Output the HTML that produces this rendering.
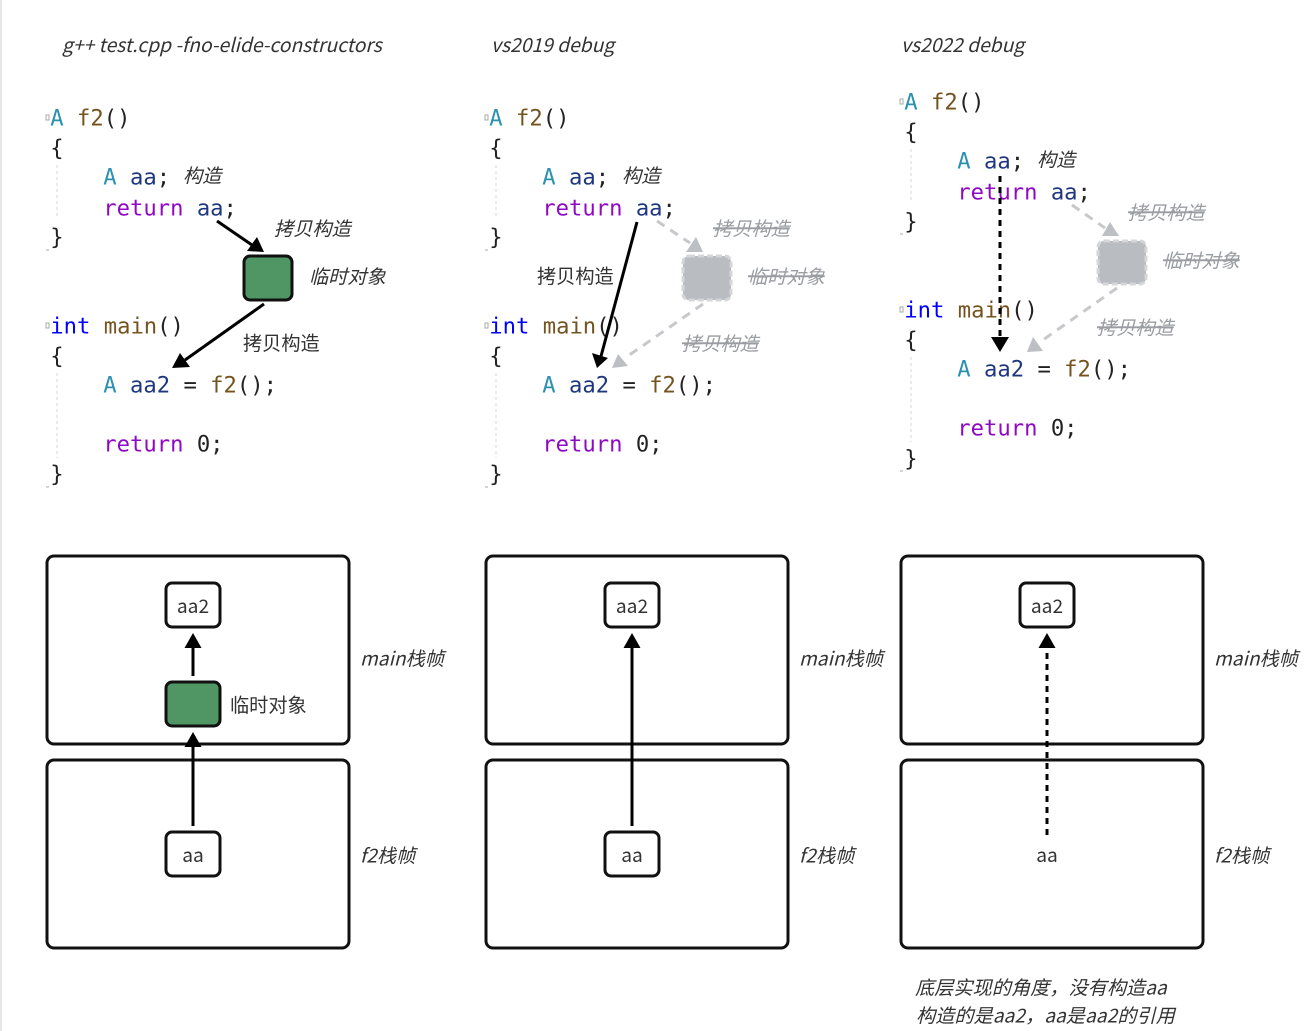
<!DOCTYPE html>
<html><head><meta charset="utf-8"><style>
html,body{margin:0;padding:0;background:#fff;width:1309px;height:1031px;overflow:hidden}
svg{display:block}
.c{font-family:"DejaVu Sans Mono","Liberation Mono",monospace;font-size:22.2px;fill:#222;stroke:currentColor;stroke-width:0;transform:translate(-.7px,.3px)}
.t{fill:#2b91af}.f{fill:#74531f}.v{fill:#1f377f}.k{fill:#8f08c4}.b{fill:#0000ff}
.n{font-family:"Noto Sans CJK SC","Liberation Sans",sans-serif;font-size:19.2px;fill:#333}
.cj{font-family:"Noto Sans CJK SC",sans-serif;font-size:19.2px;fill:#333}
.i{font-style:italic;transform:translate(-1px,.6px)}
.g{font-family:"Noto Sans CJK SC",sans-serif;font-size:19.2px;font-style:italic;fill:#9a9da2;text-decoration:line-through;transform:translateY(.6px)}
.title{font-family:"Noto Sans CJK SC",sans-serif;font-size:19.25px;font-style:italic;fill:#333}
.box{fill:#fff;stroke:#111;stroke-width:3}
.gb{fill:#4f9664;stroke:#111;stroke-width:3}
.gr{fill:#b9bcc0;stroke:#d5d6da;stroke-width:3;stroke-dasharray:6 3}
.ln{stroke:#000;stroke-width:3;fill:none}
.dl{stroke:#000;stroke-width:3;fill:none;stroke-dasharray:6 5}
.gl{stroke:#c6c8cb;stroke-width:3;fill:none;stroke-dasharray:9 7}
.gh{fill:#bcbfc3}
.ig{stroke:#d5d5d5;stroke-width:1;stroke-dasharray:3 3}
.fm{fill:none;stroke:#aaa;stroke-width:1}
</style></head><body>
<svg width="1309" height="1031" viewBox="0 0 1309 1031" xmlns="http://www.w3.org/2000/svg">
<rect x="0" y="0" width="1309" height="1031" fill="#fff"/>
<rect x="0" y="0" width="2" height="1031" fill="#e6e6ea"/>

<text class="title" x="62" y="52">g++ test.cpp -fno-elide-constructors</text>
<text class="title" x="491" y="52">vs2019 debug</text>
<text class="title" x="901" y="52">vs2022 debug</text>

<!-- column 1 code -->
<rect class="fm" x="46" y="115" width="3" height="5"/><rect class="fm" x="46" y="323" width="3" height="5"/>
<path class="ig" d="M57 165V218M57 373V458"/>
<path d="M46 250h3M46 487h3" stroke="#aaa"/>
<text class="c" x="51" y="125"><tspan class="t">A</tspan> <tspan class="f">f2</tspan>()</text>
<text class="c" x="51" y="155">{</text>
<text class="c" x="104" y="184"><tspan class="t">A</tspan> <tspan class="v">aa</tspan>;</text>
<text class="c" x="104" y="215"><tspan class="k">return</tspan> <tspan class="v">aa</tspan>;</text>
<text class="c" x="51" y="244">}</text>
<text class="c" x="51" y="333"><tspan class="b">int</tspan> <tspan class="f">main</tspan>()</text>
<text class="c" x="51" y="363">{</text>
<text class="c" x="104" y="392"><tspan class="t">A</tspan> <tspan class="v">aa2</tspan> = <tspan class="f">f2</tspan>();</text>
<text class="c" x="104" y="451"><tspan class="k">return</tspan> 0;</text>
<text class="c" x="51" y="481">}</text>

<text class="cj i" x="184" y="182">构造</text>
<text class="cj i" x="275" y="235">拷贝构造</text>
<text class="cj i" x="310" y="283">临时对象</text>
<text class="cj" x="243" y="350">拷贝构造</text>
<rect class="gb" x="244" y="256" width="48" height="44" rx="6"/>
<path class="ln" d="M217 221L252 245"/>
<polygon points="264,252 247,251 257,237" fill="#000"/>
<path class="ln" d="M264 304L185 360"/>
<polygon points="172,368 190,367 180,353" fill="#000"/>

<!-- column 2 code -->
<rect class="fm" x="485" y="115" width="3" height="5"/><rect class="fm" x="485" y="323" width="3" height="5"/>
<path class="ig" d="M496 165V218M496 373V458"/>
<path d="M485 250h3M485 487h3" stroke="#aaa"/>
<text class="c" x="490" y="125"><tspan class="t">A</tspan> <tspan class="f">f2</tspan>()</text>
<text class="c" x="490" y="155">{</text>
<text class="c" x="543" y="184"><tspan class="t">A</tspan> <tspan class="v">aa</tspan>;</text>
<text class="c" x="543" y="215"><tspan class="k">return</tspan> <tspan class="v">aa</tspan>;</text>
<text class="c" x="490" y="244">}</text>
<text class="c" x="490" y="333"><tspan class="b">int</tspan> <tspan class="f">main</tspan>()</text>
<text class="c" x="490" y="363">{</text>
<text class="c" x="543" y="392"><tspan class="t">A</tspan> <tspan class="v">aa2</tspan> = <tspan class="f">f2</tspan>();</text>
<text class="c" x="543" y="451"><tspan class="k">return</tspan> 0;</text>
<text class="c" x="490" y="481">}</text>

<text class="cj i" x="623" y="182">构造</text>
<text class="cj" x="537" y="283">拷贝构造</text>
<text class="g" x="713" y="235">拷贝构造</text>
<text class="g" x="748" y="283">临时对象</text>
<text class="g" x="682" y="350">拷贝构造</text>
<rect class="gr" x="683" y="256" width="48" height="44" rx="6"/>
<path class="gl" d="M657 221L690 243"/>
<polygon class="gh" points="696,237 686,252 703,252"/>
<path class="gl" d="M703 304L625 358"/>
<polygon class="gh" points="612,368 628,366 618,354"/>
<path class="ln" d="M637 222L600 360"/>
<polygon points="597,368 592,353 608,358" fill="#000"/>

<!-- column 3 code -->
<rect class="fm" x="900" y="99" width="3" height="5"/><rect class="fm" x="900" y="307" width="3" height="5"/>
<path class="ig" d="M911 149V202M911 357V442"/>
<path d="M900 234h3M900 471h3" stroke="#aaa"/>
<text class="c" x="905" y="109"><tspan class="t">A</tspan> <tspan class="f">f2</tspan>()</text>
<text class="c" x="905" y="139">{</text>
<text class="c" x="958" y="168"><tspan class="t">A</tspan> <tspan class="v">aa</tspan>;</text>
<text class="c" x="958" y="199"><tspan class="k">return</tspan> <tspan class="v">aa</tspan>;</text>
<text class="c" x="905" y="228.500">}</text>
<text class="c" x="905" y="317"><tspan class="b">int</tspan> <tspan class="f">main</tspan>()</text>
<text class="c" x="905" y="347">{</text>
<text class="c" x="958" y="376"><tspan class="t">A</tspan> <tspan class="v">aa2</tspan> = <tspan class="f">f2</tspan>();</text>
<text class="c" x="958" y="435"><tspan class="k">return</tspan> 0;</text>
<text class="c" x="905" y="465.500">}</text>

<text class="cj i" x="1038" y="166">构造</text>
<text class="g" x="1128" y="219">拷贝构造</text>
<text class="g" x="1163" y="267">临时对象</text>
<text class="g" x="1097" y="334">拷贝构造</text>
<rect class="gr" x="1098" y="241" width="48" height="43" rx="6"/>
<path class="gl" d="M1072 205L1105 228"/>
<polygon class="gh" points="1110,222 1102,236 1119,236"/>
<path class="gl" d="M1117 288L1040 342"/>
<polygon class="gh" points="1027,352 1043,351 1033,337"/>
<path class="dl" d="M1000 176V338"/>
<polygon points="991,337 1009,337 1000,352" fill="#000"/>

<!-- stack frames col 1 -->
<rect class="box" x="47" y="556" width="302" height="188" rx="7"/>
<rect class="box" x="47" y="760" width="302" height="188" rx="7"/>
<rect class="box" x="166" y="583" width="54" height="44" rx="6"/>
<text class="n" x="193" y="613" text-anchor="middle">aa2</text>
<rect class="gb" x="166" y="682" width="54" height="44" rx="6"/>
<text class="cj" x="230" y="712">临时对象</text>
<rect class="box" x="166" y="832" width="54" height="44" rx="6"/>
<text class="n" x="193" y="862" text-anchor="middle">aa</text>
<path class="ln" d="M193 676V646M193 826V745"/>
<polygon points="193,633 184.500,648 201.500,648" fill="#000"/>
<polygon points="193,732 184.500,747 201.500,747" fill="#000"/>
<text class="cj i" x="361" y="665">main栈帧</text>
<text class="cj i" x="361" y="862">f2栈帧</text>

<!-- stack frames col 2 -->
<rect class="box" x="486" y="556" width="302" height="188" rx="7"/>
<rect class="box" x="486" y="760" width="302" height="188" rx="7"/>
<rect class="box" x="605" y="583" width="54" height="44" rx="6"/>
<text class="n" x="632" y="613" text-anchor="middle">aa2</text>
<rect class="box" x="605" y="832" width="54" height="44" rx="6"/>
<text class="n" x="632" y="862" text-anchor="middle">aa</text>
<path class="ln" d="M632 826V646"/>
<polygon points="632,633 623.500,648 640.500,648" fill="#000"/>
<text class="cj i" x="800" y="665">main栈帧</text>
<text class="cj i" x="800" y="862">f2栈帧</text>

<!-- stack frames col 3 -->
<rect class="box" x="901" y="556" width="302" height="188" rx="7"/>
<rect class="box" x="901" y="760" width="302" height="188" rx="7"/>
<rect class="box" x="1020" y="583" width="54" height="44" rx="6"/>
<text class="n" x="1047" y="613" text-anchor="middle">aa2</text>
<text class="n" x="1047" y="862" text-anchor="middle">aa</text>
<path class="dl" d="M1047 835V646"/>
<polygon points="1047,633 1038.500,648 1055.500,648" fill="#000"/>
<text class="cj i" x="1215" y="665">main栈帧</text>
<text class="cj i" x="1215" y="862">f2栈帧</text>

<text class="cj i" x="916" y="994">底层实现的角度，没有构造aa</text>
<text class="cj i" x="917" y="1022">构造的是aa2，aa是aa2的引用</text>
</svg>
</body></html>
